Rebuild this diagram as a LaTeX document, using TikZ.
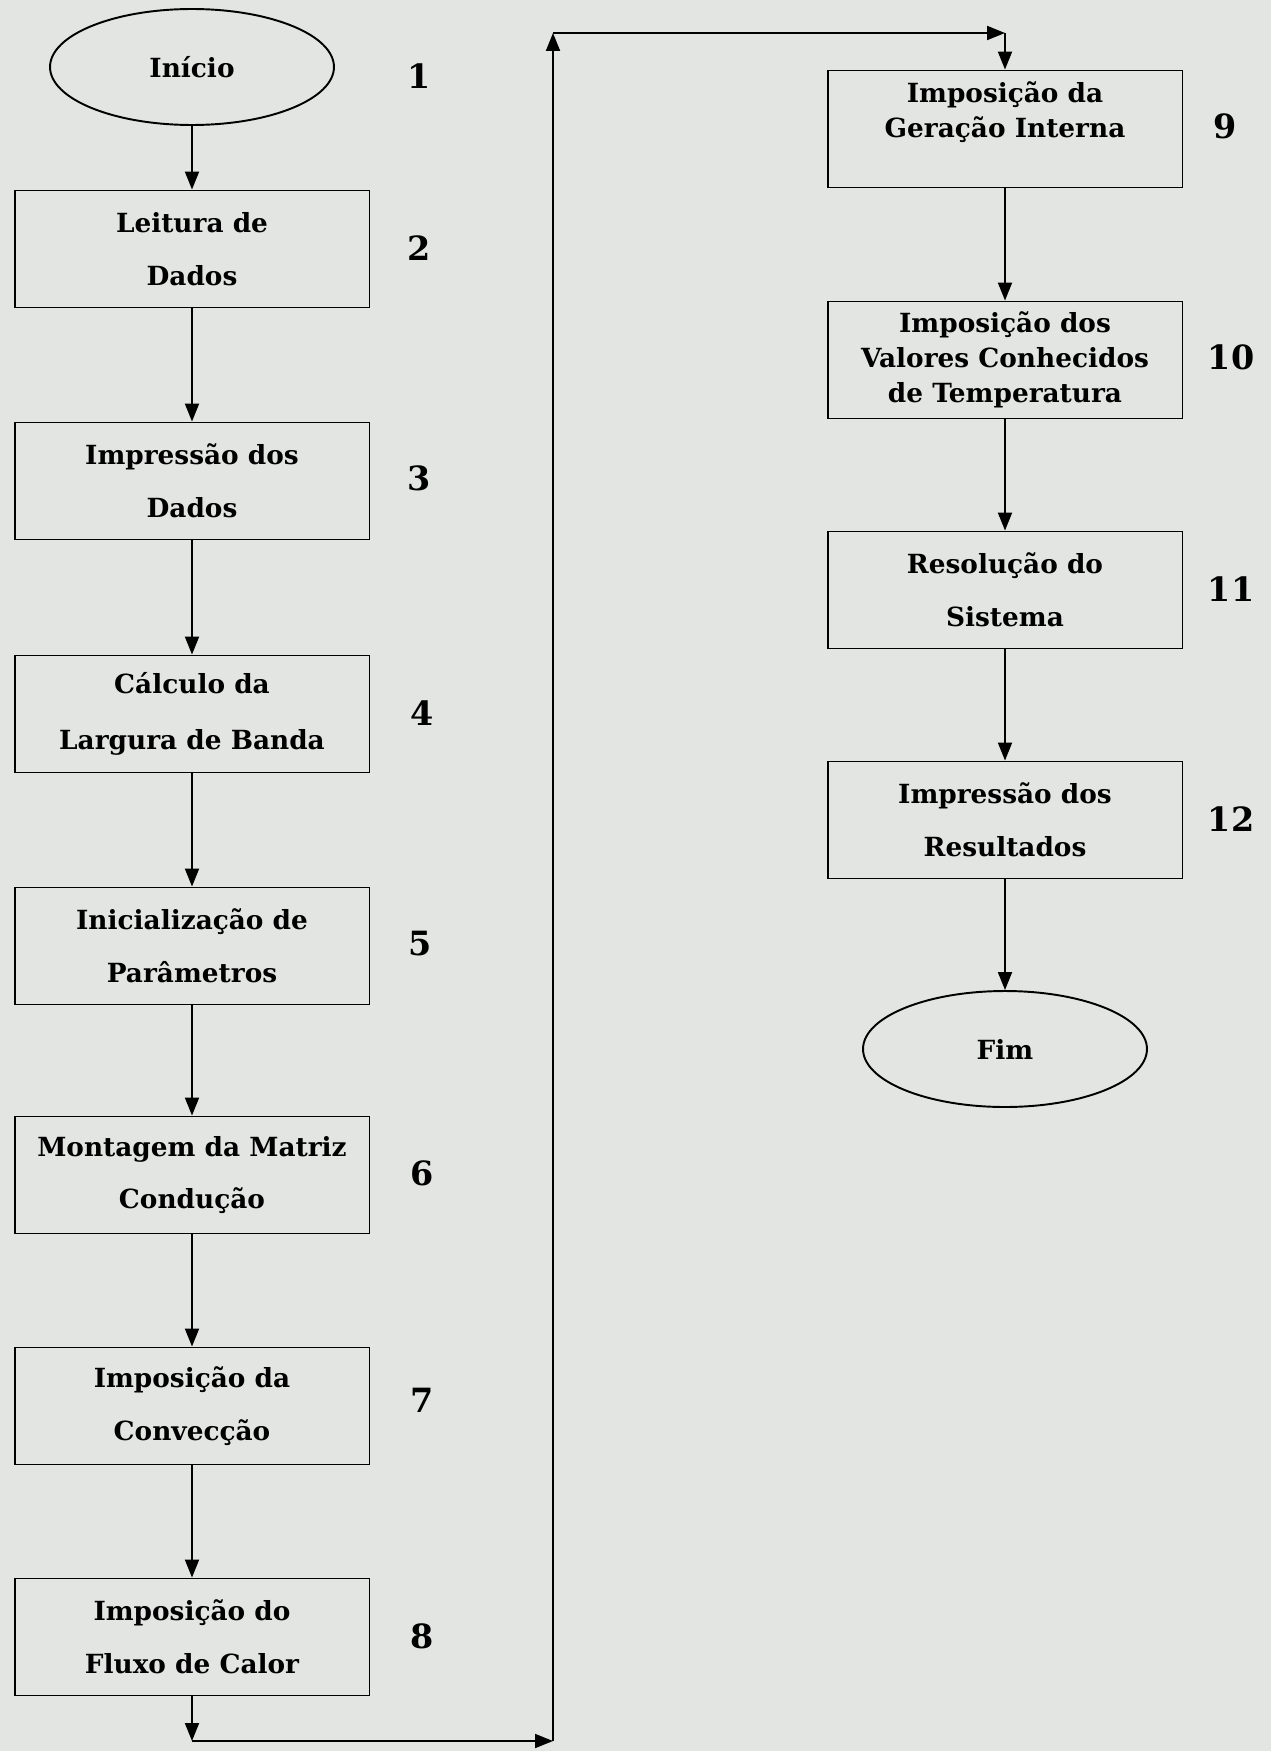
\documentclass[tikz,border=0pt]{standalone}
\usepackage{fontspec}
\setmainfont{DejaVu Serif}
\usetikzlibrary{arrows.meta,shapes.geometric}
\definecolor{paper}{RGB}{227,229,227}
\newcommand{\boxfont}{\fontsize{15}{20}\selectfont\bfseries}
\newcommand{\numfont}{\fontsize{19}{20}\selectfont\bfseries}
\tikzset{
  procbox/.style={draw, line width=1.1pt, minimum width=7.1cm, minimum height=2.34cm,
    align=center, font=\boxfont, inner sep=0pt},
  termnode/.style={draw, ellipse, line width=1.1pt, minimum width=5.68cm,
    minimum height=2.32cm, font=\boxfont, inner sep=0pt},
  steplabel/.style={font=\numfont},
  flow/.style={line width=1.1pt, -{Triangle[length=3.6mm,width=2.8mm]}},
}
\begin{document}
\begin{tikzpicture}[x=0.02cm, y=-0.02cm]
  \fill[paper] (0,0) rectangle (1271,1751);
  \useasboundingbox (0,0) rectangle (1271,1751);
  % left column
  \node[termnode] (inicio) at (192,67) {Início};
  \node[procbox] (leitura) at (192,249) {Leitura de\\[10pt]Dados};
  \node[procbox] (impdados) at (192,481) {Impressão dos\\[10pt]Dados};
  \node[procbox] (banda) at (192,714) {Cálculo da\\[12pt]Largura de Banda};
  \node[procbox] (inicial) at (192,946) {Inicialização de\\[10pt]Parâmetros};
  \node[procbox] (matriz) at (192,1175) {Montagem da Matriz\\[10pt]Condução};
  \node[procbox] (conveccao) at (192,1406) {Imposição da\\[10pt]Convecção};
  \node[procbox] (fluxo) at (192,1637) {Imposição do\\[10pt]Fluxo de Calor};
  % right column
  \node[procbox] (geracao) at (1005,129) {Imposição da\\Geração Interna\\[2pt]\mbox{}};
  \node[procbox] (valores) at (1005,360) {Imposição dos\\Valores Conhecidos\\de Temperatura};
  \node[procbox] (sistema) at (1005,590) {Resolução do\\[10pt]Sistema};
  \node[procbox] (resultados) at (1005,820) {Impressão dos\\[10pt]Resultados};
  \node[termnode] (fim) at (1005,1049) {Fim};
  % step numbers
  \node[steplabel] (n1) at (419,76) {1};
  \node[steplabel] (n2) at (419,248) {2};
  \node[steplabel] (n3) at (419,478) {3};
  \node[steplabel] (n4) at (422,713) {4};
  \node[steplabel] (n5) at (420,944) {5};
  \node[steplabel] (n6) at (422,1173) {6};
  \node[steplabel] (n7) at (422,1400) {7};
  \node[steplabel] (n8) at (422,1636) {8};
  \node[steplabel] (n9) at (1225,126) {9};
  \node[steplabel] (n10) at (1231,357) {10};
  \node[steplabel] (n11) at (1231,589) {11};
  \node[steplabel] (n12) at (1231,819) {12};
  % turn points of the long connector
  \coordinate (c1) at (192,1741);
  \coordinate (c2) at (553,1741);
  \coordinate (c3) at (553,33);
  \coordinate (c4) at (1005,33);
  \begin{scope}[flow]
    \draw (inicio) -- (leitura);
    \draw (leitura) -- (impdados);
    \draw (impdados) -- (banda);
    \draw (banda) -- (inicial);
    \draw (inicial) -- (matriz);
    \draw (matriz) -- (conveccao);
    \draw (conveccao) -- (fluxo);
    \draw (fluxo) -- (c1);
    \draw (c1) -- (c2);
    \draw (c2) -- (c3);
    \draw (c3) -- (c4);
    \draw (c4) -- (geracao);
    \draw (geracao) -- (valores);
    \draw (valores) -- (sistema);
    \draw (sistema) -- (resultados);
    \draw (resultados) -- (fim);
  \end{scope}
\end{tikzpicture}
\end{document}
